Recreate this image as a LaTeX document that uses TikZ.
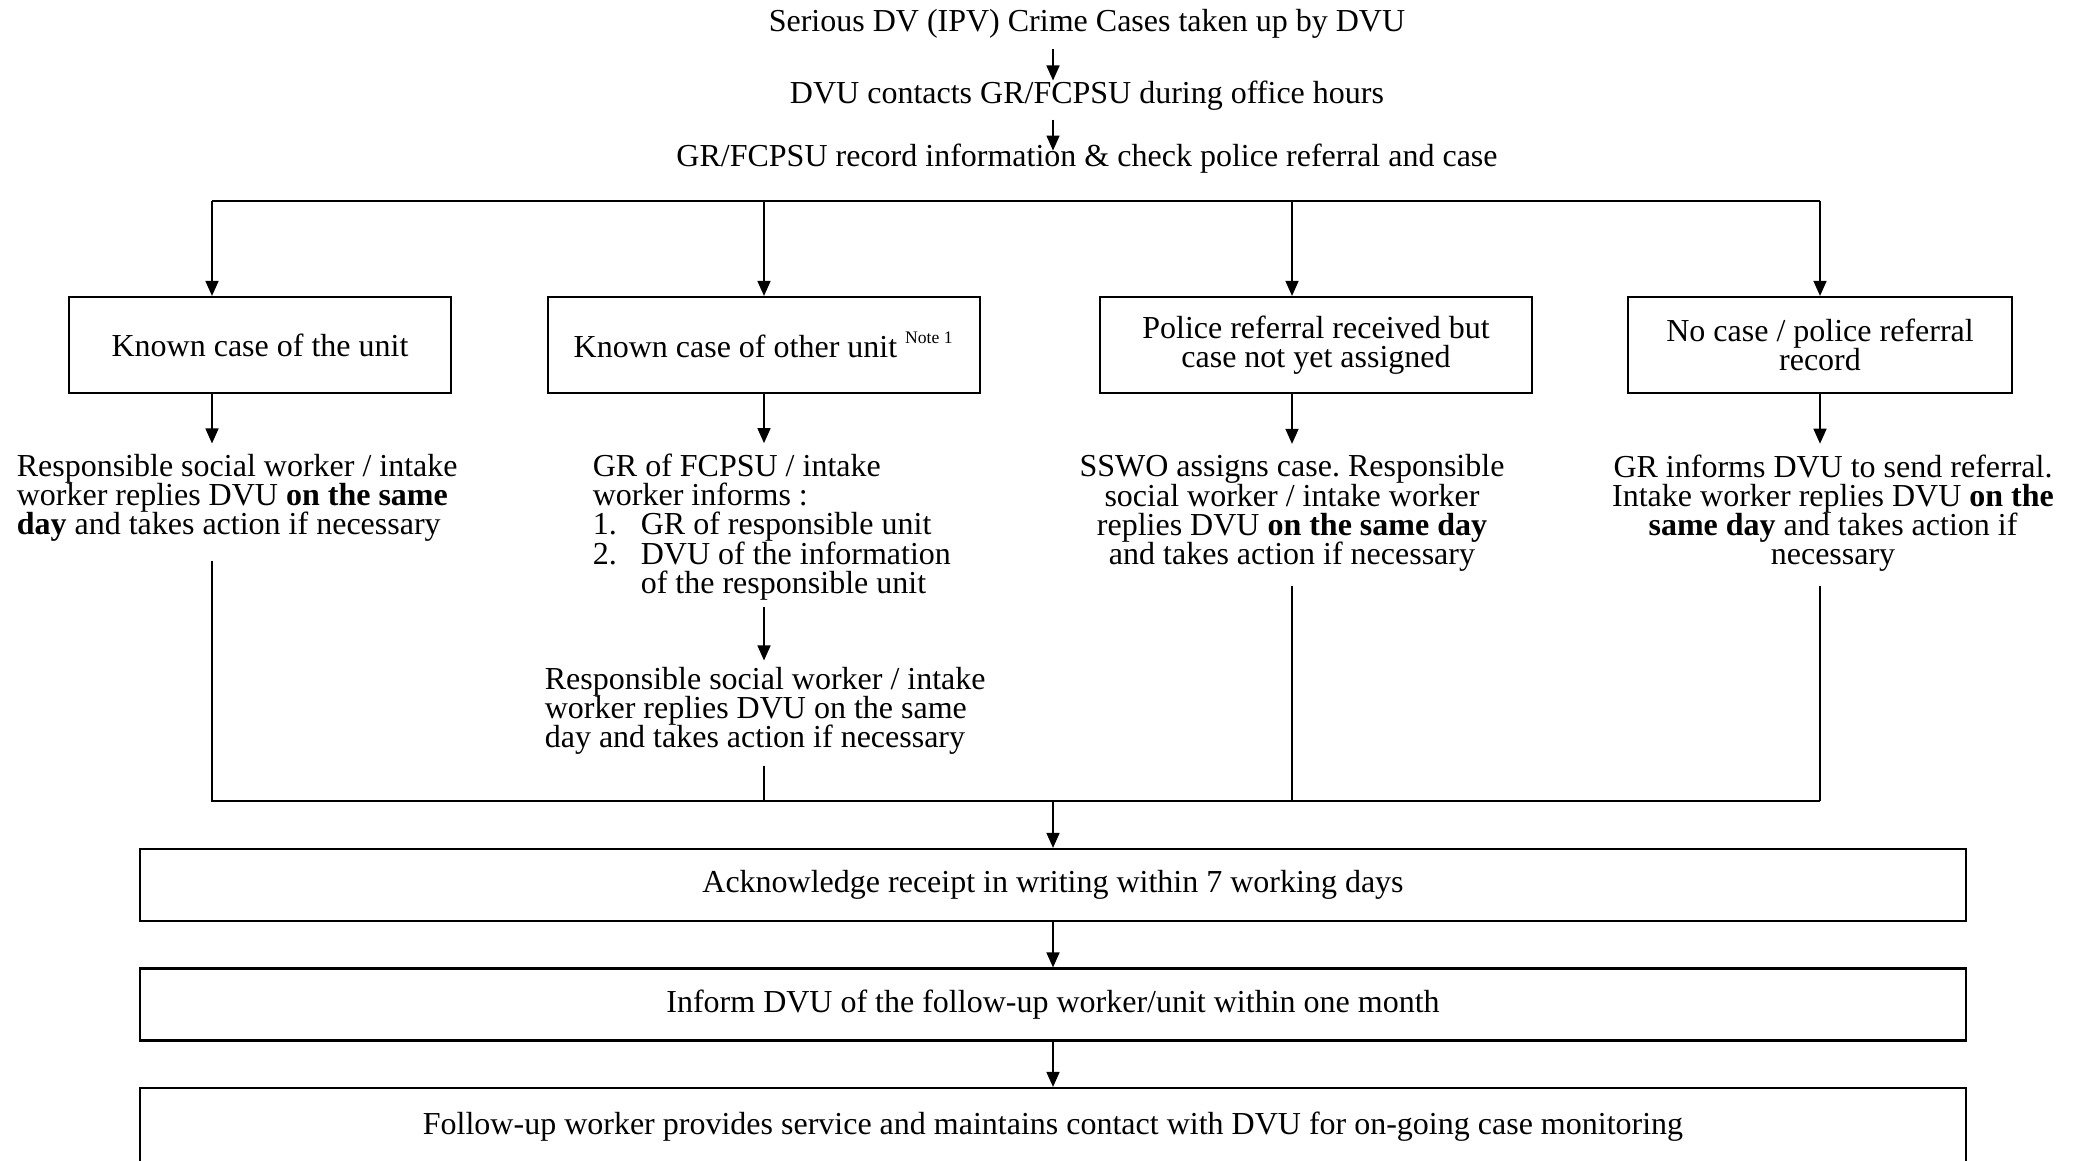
\documentclass[tikz,border=0pt]{standalone}
\usepackage{fontspec}
\setmainfont{Liberation Serif}
\usetikzlibrary{arrows.meta}
\newcommand\chartfont{\fontsize{9.1}{8.3}\selectfont\lineskiplimit-20pt\relax\frenchspacing}

\begin{document}
\begin{tikzpicture}[x=0.01cm,y=-0.01cm,line width=0.45pt,
  every node/.style={inner sep=0pt,font=\chartfont},
  box/.style={draw,line width=0.6pt,minimum height=0.96cm,align=center},
  wide/.style={draw,line width=0.6pt,minimum width=18.25cm,minimum height=0.72cm},
  arr/.style={-{Triangle[length=0.15cm,width=0.13cm]}}]
\useasboundingbox (0,0) rectangle (2076,1161);
% top of the chart
\node (top1) at (1087,24) {Serious DV (IPV) Crime Cases taken up by DVU};
\node (top2) at (1087,96) {DVU contacts GR/FCPSU during office hours};
\node (top3) at (1087,159) {GR/FCPSU record information \& check police referral and case};
\coordinate (a0) at (1053,0);
\draw[arr] ([yshift=-0.1cm]a0 |- top1.south) -- (a0 |- top2.north);
\draw[arr] ([yshift=-0.08cm]a0 |- top2.south) -- ([yshift=-0.07cm]a0 |- top3.north);
% four cases
\coordinate (s1) at (212,201);
\coordinate (s2) at (764,201);
\coordinate (s3) at (1292,201);
\coordinate (s4) at (1820,201);
\draw (s1) -- (s4);
\node[box,minimum width=3.82cm] (b1) at (260,345) {Known case of the unit};
\node[box,minimum width=4.32cm] (b2) at (764,345) {Known case of other unit \textsuperscript{\fontsize{5}{5}\selectfont Note 1}};
\node[box,minimum width=4.32cm] (b3) at (1316,345) {Police referral received but\\case not yet assigned};
\node[box,minimum width=3.84cm] (b4) at (1820,345) {No case / police referral\\record};
\foreach \i in {1,...,4}
  \draw[arr] (s\i) -- (s\i |- b\i.north);
% what follows
\node[anchor=west,align=left] (t1) at (16,498) {Responsible social worker / intake\\worker replies DVU \textbf{on the same}\\\textbf{day} and takes action if necessary};
\node[anchor=west,align=left] (t2) at (592,527) {GR of FCPSU / intake\\worker informs :\\\makebox[0.48cm][l]{1.}GR of responsible unit\\\makebox[0.48cm][l]{2.}DVU of the information\\\hspace*{0.48cm}of the responsible unit};
\node[anchor=west,align=left] (t2b) at (544,711) {Responsible social worker / intake\\worker replies DVU on the same\\day and takes action if necessary};
\node[align=center] (t3) at (1292,513) {SSWO assigns case. Responsible\\social worker / intake worker\\replies DVU \textbf{on the same day}\\and takes action if necessary};
\node[align=center] (t4) at (1833,513) {GR informs DVU to send referral.\\Intake worker replies DVU \textbf{on the}\\\textbf{same day} and takes action if\\necessary};
\draw[arr] (b1.south -| s1) -- ([yshift=0.1cm]s1 |- t1.north);
\draw[arr] (b2.south) -- ([yshift=0.1cm]s2 |- t2.north);
\draw[arr] (b3.south -| s3) -- ([yshift=0.1cm]s3 |- t3.north);
\draw[arr] (b4.south -| s4) -- ([yshift=0.1cm]s4 |- t4.north);
\draw[arr] ([yshift=-0.06cm]s2 |- t2.south) -- ([yshift=0.06cm]s2 |- t2b.north);
% bus to the end
\coordinate (m1) at (212,801);
\coordinate (m4) at (1820,801);
\coordinate (m0) at (1053,801);
\draw ([yshift=-0.18cm]s1 |- t1.south) -- (m1) -- (m4);
\draw ([yshift=-0.1cm]s2 |- t2b.south) -- (s2 |- m1);
\draw ([yshift=-0.14cm]s3 |- t3.south) -- (s3 |- m1);
\draw ([yshift=-0.14cm]s4 |- t4.south) -- (m4);
\node[wide] (ack) at (1053,885) {Acknowledge receipt in writing within 7 working days};
\node[wide] (inf) at (1053,1004.5) {Inform DVU of the follow-up worker/unit within one month};
\node[wide,minimum height=0.78cm] (fol) at (1053,1127) {Follow-up worker provides service and maintains contact with DVU for on-going case monitoring};
\draw[arr] (m0) -- (ack.north);
\draw[arr] (ack) -- (inf);
\draw[arr] (inf) -- (fol);
\end{tikzpicture}
\end{document}
